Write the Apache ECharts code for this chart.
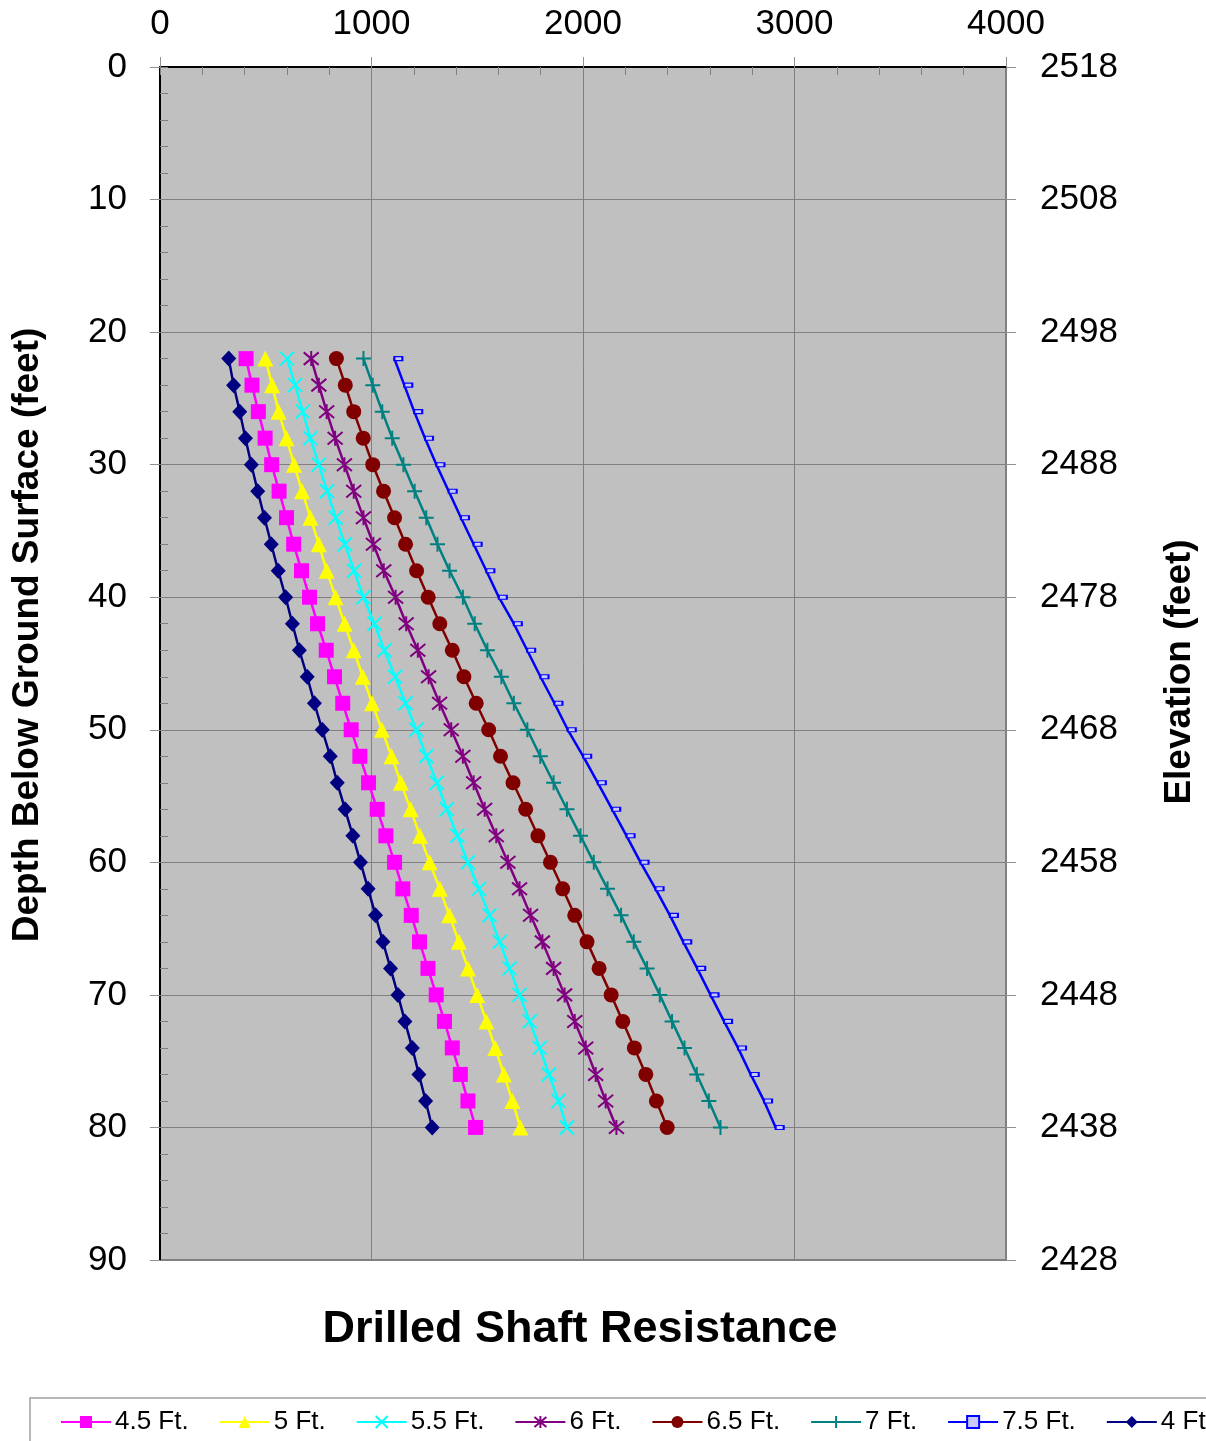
<!DOCTYPE html>
<html>
<head>
<meta charset="utf-8">
<script src="https://cdn.jsdelivr.net/npm/echarts@6/dist/echarts.min.js"></script>
<style>
html,body{margin:0;padding:0;background:#fff;}
#chart{width:1206px;height:1441px;}
</style>
</head>
<body>
<div id="chart"></div>
<script>
// Depth below ground surface (feet)
const depths = [22,24,26,28,30,32,34,36,38,40,42,44,46,48,50,52,54,56,58,60,62,64,66,68,70,72,74,76,78,80];
// Drilled shaft resistance per shaft diameter
const s45 = [407,435,465,497,528,563,598,632,669,707,745,786,825,864,904,945,986,1027,1068,1109,1148,1188,1227,1267,1306,1345,1382,1420,1456,1492];
const s50 = [498,530,561,598,634,672,711,751,788,830,873,916,959,1003,1049,1095,1139,1185,1229,1275,1323,1368,1413,1456,1500,1543,1585,1626,1666,1704];
const s55 = [601,639,675,711,751,790,831,874,918,962,1014,1061,1112,1161,1212,1259,1309,1356,1406,1456,1508,1558,1606,1653,1700,1748,1795,1839,1884,1924];
const s60 = [715,751,788,828,872,916,962,1009,1058,1114,1164,1219,1270,1322,1377,1432,1483,1535,1590,1645,1700,1752,1808,1861,1913,1961,2013,2060,2107,2158];
const s65 = [834,876,916,961,1006,1057,1109,1161,1213,1268,1323,1382,1437,1495,1554,1610,1669,1729,1787,1846,1904,1961,2019,2076,2133,2188,2243,2297,2347,2398];
const s70 = [962,1006,1051,1098,1151,1204,1259,1312,1369,1432,1488,1548,1614,1673,1737,1798,1861,1924,1988,2051,2116,2180,2240,2303,2363,2421,2480,2538,2595,2650];
const s75 = [1108,1155,1202,1253,1307,1365,1423,1483,1543,1602,1673,1736,1799,1865,1928,2001,2070,2138,2206,2272,2343,2411,2474,2540,2603,2667,2733,2793,2856,2911];
const s40 = [325,348,377,404,432,462,494,526,559,594,626,659,696,730,767,805,838,875,912,948,984,1019,1054,1090,1125,1158,1193,1224,1256,1287];
const seriesNames = ['4.5 Ft.','5 Ft.','5.5 Ft.','6 Ft.','6.5 Ft.','7 Ft.','7.5 Ft.','4 Ft'];
const groundElevation = 2518;
const xTicks = [0,1000,2000,3000,4000];

const FONT = "'Liberation Sans', Arial, sans-serif";
const chart = echarts.init(document.getElementById('chart'), null, {renderer:'canvas'});

function pairs(vals){ return vals.map((v,i)=>[v, depths[i]]); }

const styles = [
  {data:s45, color:'#FF00FF', symbol:'rect', size:15},
  {data:s50, color:'#FFFF00', symbol:'triangle', size:16},
  {data:s55, color:'#00FFFF', symbol:'path://M0,0L10,10M10,0L0,10', size:14, stroke:2},
  {data:s60, color:'#800080', symbol:'path://M0,0L10,10M10,0L0,10M5,-1L5,11', size:15, stroke:2},
  {data:s65, color:'#800000', symbol:'circle', size:15},
  {data:s70, color:'#008080', symbol:'path://M6,0L6,12M0,6L12,6', size:15, stroke:2},
  {data:s75, color:'#0000FF', symbol:'rect', size:[8,4], offset:[4,0], fill:'#c8c8ff', stroke:1.5},
  {data:s40, color:'#000080', symbol:'diamond', size:[15,16]}
];

const series = styles.map((s,i)=>({
  name: seriesNames[i],
  type:'line',
  xAxisIndex:0,
  yAxisIndex:0,
  data: pairs(s.data),
  symbol: s.symbol,
  symbolSize: s.size,
  symbolOffset: s.offset || [0,0],
  showAllSymbol: true,
  lineStyle:{color:s.color, width:2.5},
  itemStyle:{color: s.fill || s.color, borderColor:s.color, borderWidth: s.stroke || 0},
  emphasis:{disabled:true},
  z: i===7 ? 10 : 3
}));

const option = {
  animation:false,
  backgroundColor:'#ffffff',
  textStyle:{fontFamily:FONT},
  grid:{left:160, right:200, top:67, bottom:181, show:true, backgroundColor:'#C0C0C0', borderColor:'#808080', borderWidth:2},
  xAxis:[
    {type:'value', position:'top', min:xTicks[0], max:xTicks[xTicks.length-1], interval:1000,
     axisLine:{show:true, lineStyle:{color:'#000', width:2}},
     axisTick:{show:true, inside:false, length:10, lineStyle:{color:'#909090', width:1}},
     axisLabel:{show:true, margin:25, fontSize:35, color:'#000', fontFamily:FONT, formatter:(v)=>String(v)},
     splitLine:{show:true, lineStyle:{color:'#808080', width:1}}},
    {type:'value', position:'top', min:0, max:4000, interval:200,
     axisLine:{show:false},
     axisTick:{show:true, inside:true, length:8, lineStyle:{color:'#808080', width:1}},
     axisLabel:{show:false}, splitLine:{show:false}}
  ],
  yAxis:[
    {type:'value', position:'left', inverse:true, min:0, max:90, interval:10,
     axisLine:{show:true, onZero:false, lineStyle:{color:'#000', width:2}},
     axisTick:{show:true, inside:false, length:10, lineStyle:{color:'#909090', width:1}},
     axisLabel:{show:true, margin:33, fontSize:35, color:'#000', fontFamily:FONT, formatter:(v)=>String(v)},
     splitLine:{show:true, lineStyle:{color:'#808080', width:1}}},
    {type:'value', position:'right', inverse:true, min:0, max:90, interval:10,
     axisLine:{show:true, onZero:false, lineStyle:{color:'#808080', width:2}},
     axisTick:{show:true, inside:false, length:10, lineStyle:{color:'#909090', width:1}},
     axisLabel:{show:true, margin:34, fontSize:35, color:'#000', fontFamily:FONT,
       formatter:(v)=>String(groundElevation - v)},
     splitLine:{show:false}},
    {type:'value', position:'left', inverse:true, min:0, max:90, interval:2,
     axisLine:{show:false},
     axisTick:{show:true, inside:true, length:8, lineStyle:{color:'#808080', width:1}},
     axisLabel:{show:false}, splitLine:{show:false}}
  ],
  legend:{
    show:true, orient:'horizontal', left:60, top:1409, padding:0,
    itemWidth:50, itemHeight:15, itemGap:30,
    data: seriesNames,
    textStyle:{fontSize:26, color:'#000', fontFamily:FONT, padding:[0,0,0,-1]},
    selectedMode:false
  },
  graphic:[
    {type:'rect', shape:{x:30, y:1398, width:1300, height:100}, style:{fill:'none', stroke:'#a0a0a0', lineWidth:1.5}, silent:true, z:-1},
    {type:'text', x:28, y:635, rotation:Math.PI/2,
     style:{text:'Depth Below Ground Surface (feet)', font:"bold 37px "+FONT, fill:'#000', textAlign:'center', textVerticalAlign:'middle'}},
    {type:'text', x:1180, y:672, rotation:Math.PI/2,
     style:{text:'Elevation (feet)', font:"bold 37px "+FONT, fill:'#000', textAlign:'center', textVerticalAlign:'middle'}},
    {type:'text', x:580, y:1330,
     style:{text:'Drilled Shaft Resistance', font:"bold 45px "+FONT, fill:'#000', textAlign:'center', textVerticalAlign:'middle'}}
  ],
  series: series
};
chart.setOption(option);
</script>
</body>
</html>
